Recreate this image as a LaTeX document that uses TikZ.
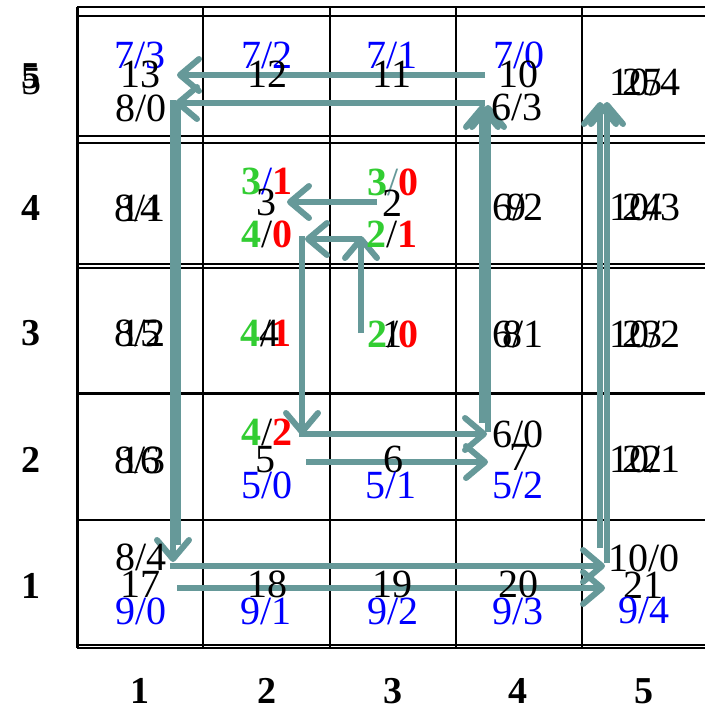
\documentclass[tikz,border=0pt]{standalone}
\usepackage{fontspec}
\setmainfont{Liberation Serif}
\usetikzlibrary{arrows.meta}
\definecolor{arrc}{RGB}{102,153,153}
\definecolor{gG}{RGB}{50,205,50}
\definecolor{rR}{RGB}{255,0,0}
\definecolor{bB}{RGB}{0,0,255}
\newcommand\gnum[1]{{\bfseries\color{gG}#1}}
\newcommand\rnum[1]{{\bfseries\color{rR}#1}}
\begin{document}
\begin{tikzpicture}[x=1pt,y=-1pt,
  gridline/.style={line width=2.2pt, black},
  thinline/.style={line width=1.6pt, black},
  flow/.style={line width=6pt, draw=arrc, -{Straight Barb[length=19pt,width=32pt,round]}},
  flowplain/.style={line width=6pt, draw=arrc},
  num/.style={anchor=base, inner sep=0pt, font=\fontsize{40}{48}\selectfont},
  bnum/.style={num, text=bB},
  lab/.style={anchor=base, inner sep=0pt, font=\fontsize{38}{46}\selectfont\bfseries},
]
\useasboundingbox (0,0) rectangle (705,710);
\fill[white] (0,0) rectangle (705,710);

% grid
\foreach \yy in {7,16,136,143,264,268,645,648}
  \draw[thinline] (77,\yy) -- (705,\yy);
\foreach \yy in {393}
  \draw[line width=3pt] (77,\yy) -- (705,\yy);
\foreach \yy in {520}
  \draw[gridline] (77,\yy) -- (705,\yy);
\draw[line width=3pt] (77,7) -- (77,648);
\foreach \xx in {203,330,456,582}
  \draw[gridline] (\xx,7) -- (\xx,648);

% arrow end points
\coordinate (a1s) at (361,333); \coordinate (a1e) at (361,236);
\coordinate (a2s) at (377,202); \coordinate (a2e) at (287,202);
\coordinate (a3s) at (362,239); \coordinate (a3e) at (305,239);
\coordinate (a4s) at (302,236); \coordinate (a4e) at (302,435);
\coordinate (a5s) at (299,434); \coordinate (a5e) at (487,434);
\coordinate (a6s) at (306,462); \coordinate (a6e) at (488,462);
\coordinate (a7s) at (482,423); \coordinate (a7e) at (482,105);
\coordinate (a8s) at (488,432); \coordinate (a8e) at (488,105);
\coordinate (a9s) at (485,75);  \coordinate (a9e) at (177,75);
\coordinate (a10s) at (485,103); \coordinate (a10e) at (175,103);
\coordinate (a11s) at (173,100); \coordinate (a11e) at (173,562);
\coordinate (a12s) at (178,103); \coordinate (a12e) at (178,545);
\coordinate (a13s) at (170,566); \coordinate (a13e) at (605,566);
\coordinate (a14s) at (177,588); \coordinate (a14e) at (605,588);
\coordinate (a15s) at (600,548); \coordinate (a15e) at (600,102);
\coordinate (a16s) at (607,563); \coordinate (a16e) at (607,102);

\draw[flow] (a1s) -- (a1e);
\draw[flow] (a2s) -- (a2e);
\draw[flow] (a3s) -- (a3e);
\draw[flow] (a4s) -- (a4e);
\draw[flow] (a5s) -- (a5e);
\draw[flow] (a6s) -- (a6e);
\draw[flow] (a7s) -- (a7e);
\draw[flow] (a8s) -- (a8e);
\draw[flow] (a9s) -- (a9e);
\draw[flow] (a10s) -- (a10e);
\draw[flow] (a11s) -- (a11e);
\draw[flowplain] (a12s) -- (a12e);
\draw[flow] (a13s) -- (a13e);
\draw[flow] (a14s) -- (a14e);
\draw[flow] (a15s) -- (a15e);
\draw[flow] (a16s) -- (a16e);

% row 5
\node[bnum] (t73) at (140,68) {7/3};
\node[num] (t13) at (140,87) {13};
\node[num] (t80) at (141,121) {8/0};
\node[bnum] (t72) at (267,68) {7/2};
\node[num] (t12) at (267,87) {12};
\node[bnum] (t71) at (392,68) {7/1};
\node[num] (t11) at (392,87) {11};
\node[bnum] (t70) at (519,68) {7/0};
\node[num] (t10) at (518,87) {10};
\node[num] (t63) at (517,120) {6/3};
\node[num] (t104) at (645,95) {10/4};
\node[num] (t25) at (642,95) {25};

% row 4
\node[num] (t81) at (140,221) {8/1};
\node[num] (t14) at (140,221) {14};
\node[num] (t31) at (267,194) {\gnum{3}{\color{bB}/}\rnum{1}};
\node[num] (t3) at (266,215) {3};
\node[num] (t40) at (267,247) {\gnum{4}/\rnum{0}};
\node[num] (t30) at (393,195) {\gnum{3}{\color{arrc}/}\rnum{0}};
\node[num] (t2) at (392,216) {2};
\node[num] (t21) at (392,247) {\gnum{2}/\rnum{1}};
\node[num] (t62) at (518,220) {6/2};
\node[num] (t9) at (516,220) {9};
\node[num] (t103) at (645,220) {10/3};
\node[num] (t24) at (642,220) {24};

% row 3
\node[num] (t82) at (140,346) {8/2};
\node[num] (t15) at (140,346) {15};
\node[num] (t41) at (266,346) {\gnum{4}/\rnum{1}};
\node[num] (t4) at (269,346) {4};
\node[num] (t20) at (393,347) {\gnum{2}/\rnum{0}};
\node[num] (t1) at (392,347) {1};
\node[num] (t61) at (518,347) {6/1};
\node[num] (t8) at (512,347) {8};
\node[num] (t102) at (645,347) {10/2};
\node[num] (t23) at (642,347) {23};

% row 2
\node[num] (t83) at (140,473) {8/3};
\node[num] (t16) at (140,473) {16};
\node[num] (t42) at (267,445) {\gnum{4}/\rnum{2}};
\node[num] (t5) at (265,472) {5};
\node[bnum] (t50) at (267,498) {5/0};
\node[num] (t6) at (393,472) {6};
\node[bnum] (t51) at (391,498) {5/1};
\node[num] (t60) at (518,447) {6/0};
\node[num] (t7) at (519,470) {7};
\node[bnum] (t52) at (518,498) {5/2};
\node[num] (t101) at (645,472) {10/1};
\node[num] (t22) at (642,472) {22};

% row 1
\node[num] (t84) at (141,570) {8/4};
\node[num] (t17) at (140,597) {17};
\node[bnum] (t90) at (141,624) {9/0};
\node[num] (t18) at (267,597) {18};
\node[bnum] (t91) at (266,624) {9/1};
\node[num] (t19) at (392,597) {19};
\node[bnum] (t92) at (393,624) {9/2};
\node[num] (t20b) at (518,597) {20};
\node[bnum] (t93) at (518,624) {9/3};
\node[num] (t100) at (644,571) {10/0};
\node[num] (t21b) at (643,598) {21};
\node[bnum] (t94) at (644,623) {9/4};

% row labels
\node[lab] (r5a) at (31,88) {5};
\node[num] (r5b) at (31,94) {5};
\node[lab] (r4) at (31,220) {4};
\node[lab] (r3) at (31,345) {3};
\node[lab] (r2) at (31,472) {2};
\node[lab] (r1) at (31,598) {1};

% column labels
\node[lab] (c1) at (140,703) {1};
\node[lab] (c2) at (267,703) {2};
\node[lab] (c3) at (393,703) {3};
\node[lab] (c4) at (518,703) {4};
\node[lab] (c5) at (644,703) {5};
\end{tikzpicture}
\end{document}
